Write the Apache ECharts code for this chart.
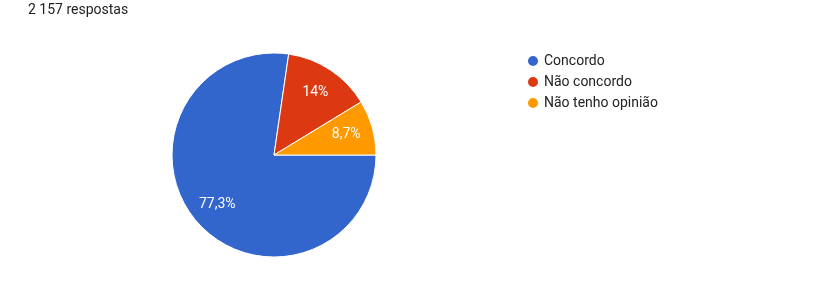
<!DOCTYPE html>
<html><head><meta charset="utf-8">
<script src="https://cdn.jsdelivr.net/npm/echarts@6/dist/echarts.min.js"></script>
<style>html,body{margin:0;padding:0;background:#fff}#c{width:831px;height:296px}</style>
</head><body><div id="c"></div>
<script>
const title = '2 157 respostas';
const categories = ['Concordo', 'Não concordo', 'Não tenho opinião'];
const values = [77.3, 14, 8.7];
const colors = ['#3366cc', '#dc3912', '#ff9900'];

const data = categories.map((n, i) => ({name: n, value: values[i], itemStyle: {color: colors[i]}}));
const fmt = p => String(p.value).replace('.', ',') + '%';

const chart = echarts.init(document.getElementById('c'));
chart.setOption({
  animation: false,
  title: {text: title, left: 23, top: -2, textStyle: {fontFamily: 'Roboto', fontSize: 14, fontWeight: 'normal', color: '#202124'}},
  legend: {
    orient: 'vertical', left: 521, top: 49, itemWidth: 12, itemHeight: 12, itemGap: 7, icon: 'circle',
    textStyle: {fontFamily: 'Roboto', fontSize: 14, color: '#222'},
    data: categories
  },
  series: [
    {
      type: 'pie', center: [274, 155], radius: [0, 102], startAngle: 0, clockwise: true,
      data: data, label: {show: false}, labelLine: {show: false},
      itemStyle: {borderColor: '#fff', borderWidth: 1}, emphasis: {disabled: true}
    },
    {
      type: 'pie', center: [274, 155], radius: [42, 102], startAngle: 0, clockwise: true, silent: true,
      data: categories.map((n, i) => ({name: n, value: values[i]})),
      itemStyle: {color: 'rgba(0,0,0,0)'},
      label: {show: true, position: 'inside', formatter: fmt, color: '#fff', fontFamily: 'Roboto', fontSize: 14},
      labelLine: {show: false}, emphasis: {disabled: true}
    }
  ]
});
</script></body></html>
